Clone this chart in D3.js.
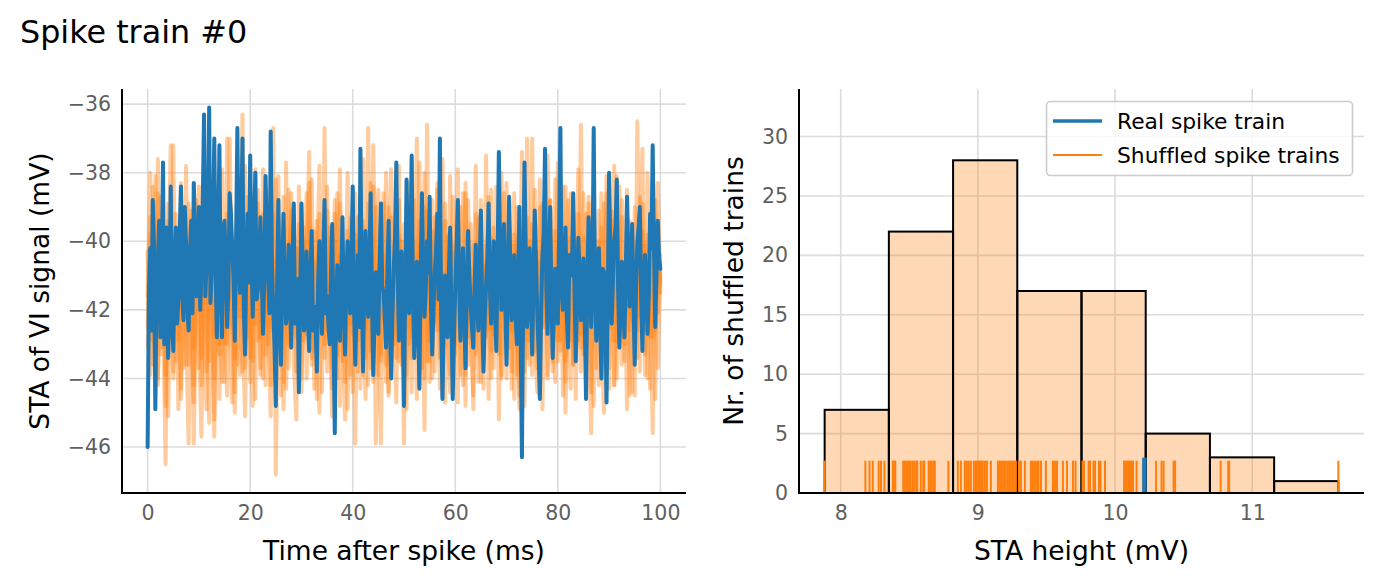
<!DOCTYPE html>
<html><head><meta charset="utf-8">
<script src="https://cdn.jsdelivr.net/npm/d3@7"></script>
<style>body{margin:0;background:#fff}svg{display:block;font-family:"DejaVu Sans",sans-serif;font-variant-ligatures:none}</style>
</head><body><svg id="c" width="1382" height="583"></svg>
<script>
// ---------- data ----------
// real spike train STA, samples at t = 0, 0.5, 1.0 ... 100 ms
const blueSTAOnGrid = [
-46.0,-40.2,-38.8,-44.9,-40.6,-42.8,-37.7,-41.9,-43.4,-38.4,
-43.2,-39.6,-41.7,-38.4,-42.3,-40.1,-42.6,-39.4,-38.3,-41.6,
-39.0,-40.9,-36.3,-40.6,-36.1,-40.9,-37.0,-42.8,-37.2,-42.8,
-39.4,-42.5,-38.6,-40.2,-42.9,-36.7,-41.5,-37.0,-43.3,-39.2,
-37.5,-42.2,-38.0,-41.4,-39.3,-42.7,-38.1,-40.9,-36.8,-42.0,
-44.8,-38.8,-43.6,-39.2,-42.4,-40.1,-43.1,-38.9,-42.3,-44.4,
-38.9,-42.6,-40.3,-43.2,-39.7,-41.9,-43.8,-40.0,-42.7,-38.8,
-41.6,-43.0,-39.5,-45.6,-40.7,-42.9,-39.3,-43.3,-40.0,-42.1,
-38.4,-43.6,-40.4,-37.3,-43.8,-39.7,-42.2,-38.6,-43.9,-40.9,
-42.7,-38.9,-41.5,-43.1,-39.4,-44.0,-40.8,-37.7,-42.9,-40.3,
-44.8,-38.2,-42.1,-37.5,-43.4,-40.6,-44.3,-38.6,-42.2,-40.0,
-38.7,-43.3,-40.9,-39.2,-37.0,-44.6,-41.0,-42.8,-39.6,-44.6,
-41.4,-38.8,-42.9,-40.2,-43.7,-39.7,-41.9,-43.1,-40.1,-42.6,
-39.1,-43.8,-41.3,-38.9,-42.4,-40.0,-43.2,-37.4,-42.0,-39.5,
-43.6,-38.7,-42.3,-40.4,-43.0,-39.0,-46.3,-37.7,-42.5,-40.2,
-43.3,-39.1,-42.1,-44.6,-40.4,-37.3,-42.7,-39.0,-43.4,-40.8,
-42.4,-36.7,-42.0,-39.6,-43.1,-40.7,-38.6,-43.5,-39.9,-42.3,
-40.5,-44.6,-39.3,-42.5,-36.7,-42.9,-40.2,-44.0,-40.9,-44.7,
-38.0,-42.4,-40.0,-38.2,-43.1,-40.6,-42.8,-38.7,-41.9,-39.5,
-43.6,-40.1,-39.0,-43.2,-40.4,-42.7,-39.2,-37.2,-42.5,-39.4,
-40.8];
// real spike train STA, samples at t = 0.25, 0.75 ... 99.75 ms
const blueSTAOffGrid = [
-41.5,-42.6,-40.1,-41.3,-39.4,-40.8,-43.0,-39.6,-41.9,-42.2,
-40.6,-42.4,-39.8,-41.5,-39.0,-41.9,-40.3,-42.1,-39.9,-40.7,
-42.0,-38.9,-41.6,-39.3,-41.8,-39.5,-40.7,-40.1,-41.4,-39.7,
-40.8,-41.4,-39.2,-41.1,-39.9,-40.4,-39.6,-41.9,-40.5,-41.2,
-40.3,-39.8,-41.7,-40.6,-40.9,-41.2,-39.9,-42.1,-40.7,-43.1,
-41.4,-42.0,-40.9,-41.6,-42.0,-41.5,-40.6,-42.4,-41.1,-41.7,
-40.8,-41.9,-42.3,-41.0,-42.6,-42.4,-41.2,-41.6,-40.5,-42.1,
-42.4,-41.0,-42.8,-41.9,-41.6,-41.2,-42.0,-41.1,-41.4,-40.6,
-41.9,-41.8,-42.5,-40.9,-41.2,-41.0,-40.7,-41.6,-42.3,-41.7,
-40.4,-41.3,-42.2,-41.0,-42.5,-42.1,-39.9,-40.7,-41.5,-42.4,
-41.2,-40.5,-40.4,-41.6,-41.9,-42.3,-41.0,-40.8,-41.4,-40.9,
-41.8,-42.0,-40.3,-41.7,-42.2,-42.5,-41.6,-40.9,-42.1,-42.8,
-40.2,-41.1,-41.3,-42.2,-41.4,-41.0,-42.5,-41.4,-41.6,-40.8,
-42.0,-42.3,-40.5,-41.4,-41.2,-41.9,-40.6,-40.3,-41.0,-41.8,
-41.3,-40.9,-41.5,-42.1,-41.2,-42.8,-41.6,-40.4,-41.7,-41.3,
-41.1,-40.6,-43.2,-42.0,-39.8,-41.3,-41.0,-41.6,-42.0,-41.5,
-39.9,-41.4,-41.3,-42.2,-40.4,-41.0,-41.4,-41.7,-41.0,-41.6,
-42.3,-41.2,-40.4,-41.1,-41.3,-41.7,-42.3,-40.8,-42.1,-41.5,
-40.3,-41.2,-39.6,-41.3,-41.8,-41.9,-41.0,-40.6,-40.9,-41.7,
-41.4,-39.6,-41.6,-41.3,-41.6,-41.5,-40.2,-40.1,-41.0,-40.5];
// shuffled spike trains, samples at t = 0, 0.5 ... 100 ms
const shuffledA = [
-42.5,-39.8,-43.6,-38.1,-44.2,-40.6,-41.9,-46.5,-39.4,-42.8,
-37.2,-43.5,-40.9,-44.6,-39.0,-42.7,-45.9,-40.3,-43.1,-38.8,
-42.9,-45.7,-39.6,-43.8,-41.2,-38.5,-44.0,-40.8,-43.3,-37.9,
-42.6,-44.5,-37.0,-41.8,-43.4,-38.9,-42.2,-36.3,-43.7,-40.1,
-44.1,-38.6,-42.4,-40.0,-43.9,-39.2,-41.6,-43.0,-38.3,-36.7,
-46.8,-40.5,-42.9,-38.7,-44.3,-40.7,-39.1,-43.5,-45.2,-38.4,
-42.1,-39.6,-44.0,-40.9,-38.2,-43.2,-41.0,-37.8,-44.4,-36.7,
-42.6,-39.9,-43.7,-41.4,-38.6,-44.8,-40.3,-42.5,-38.0,-43.9,
-40.6,-45.9,-39.3,-42.3,-37.6,-43.4,-36.7,-41.7,-44.1,-39.0,
-42.8,-45.9,-38.9,-43.6,-40.2,-37.9,-42.4,-44.7,-39.8,-41.5,
-45.9,-39.1,-43.0,-37.6,-42.2,-37.0,-44.2,-39.7,-45.5,-36.6,
-42.9,-40.0,-43.8,-38.5,-41.3,-44.5,-39.4,-42.7,-38.1,-43.6,
-40.4,-37.9,-43.9,-41.0,-44.8,-38.8,-42.3,-40.1,-43.3,-39.3,
-41.9,-44.3,-37.5,-42.6,-39.9,-43.7,-38.4,-45.2,-40.6,-42.0,
-38.3,-43.1,-40.7,-44.6,-39.0,-42.4,-37.4,-43.8,-37.0,-41.6,
-43.9,-39.5,-42.7,-38.2,-44.9,-40.3,-42.0,-38.8,-43.5,-40.8,
-37.7,-43.2,-39.8,-45.0,-41.2,-38.6,-43.6,-40.0,-42.9,-36.6,
-43.3,-39.2,-42.5,-45.6,-38.9,-41.8,-44.2,-39.6,-42.8,-38.1,
-43.7,-40.5,-37.8,-44.0,-41.1,-39.3,-43.0,-38.5,-42.6,-40.2,
-44.5,-36.5,-42.2,-39.7,-43.9,-38.0,-41.6,-45.6,-38.8,-42.1,
-40.4];
const shuffledB = [
-40.3,-43.9,-38.4,-42.7,-37.6,-43.3,-39.5,-44.8,-41.2,-37.2,
-42.6,-40.1,-44.9,-39.0,-42.1,-37.8,-43.6,-41.0,-45.9,-40.6,
-43.7,-39.4,-42.8,-44.9,-38.9,-42.0,-45.2,-40.4,-43.0,-39.8,
-44.1,-37.0,-42.5,-40.7,-44.4,-38.2,-41.9,-43.8,-37.8,-42.8,
-39.6,-43.5,-37.9,-42.9,-40.4,-44.0,-38.5,-42.1,-45.1,-39.2,
-42.4,-38.1,-44.5,-39.9,-41.5,-43.7,-38.6,-42.5,-40.2,-44.2,
-38.9,-42.9,-40.6,-37.4,-43.4,-39.7,-42.2,-45.0,-40.0,-43.0,
-38.4,-41.8,-44.3,-39.2,-42.4,-37.9,-43.5,-40.5,-44.9,-39.3,
-42.7,-38.6,-43.8,-40.2,-42.0,-44.6,-38.9,-43.2,-37.2,-41.4,
-43.9,-39.5,-42.3,-38.0,-44.4,-40.9,-42.9,-38.7,-43.5,-40.0,
-42.1,-44.9,-38.3,-43.4,-40.5,-42.8,-37.7,-41.9,-44.0,-39.1,
-43.5,-38.8,-42.4,-40.6,-44.3,-37.6,-42.0,-39.8,-43.9,-40.3,
-42.6,-44.7,-39.0,-41.7,-38.3,-43.6,-40.8,-42.9,-37.8,-44.1,
-39.6,-42.2,-40.1,-44.6,-38.5,-42.7,-40.4,-43.3,-38.0,-41.8,
-44.0,-39.4,-42.6,-38.6,-43.9,-40.7,-42.1,-44.8,-39.3,-42.9,
-37.0,-43.2,-40.3,-44.4,-38.9,-42.5,-37.5,-41.3,-43.8,-39.7,
-42.9,-40.1,-44.5,-38.4,-42.3,-39.9,-43.6,-40.8,-37.9,-43.1,
-40.6,-44.1,-38.7,-42.4,-40.0,-43.7,-39.1,-42.7,-45.0,-38.6,
-42.0,-40.4,-44.2,-38.1,-42.9,-40.9,-43.5,-39.6,-42.2,-44.4,
-39.0,-42.6,-40.5,-37.3,-43.3,-39.8,-42.8,-40.2,-44.6,-38.3,
-41.5];
const shuffledC = [
-41.6,-38.0,-42.9,-40.2,-44.0,-38.7,-43.1,-39.9,-45.1,-40.8,
-43.8,-39.2,-42.0,-44.3,-40.5,-43.6,-38.9,-42.4,-44.7,-40.0,
-38.4,-44.2,-41.3,-39.5,-43.5,-40.7,-45.7,-39.8,-42.6,-44.1,
-39.7,-43.0,-38.8,-42.7,-45.0,-40.1,-43.9,-38.5,-42.0,-39.4,
-43.4,-40.6,-44.6,-38.9,-42.8,-37.9,-43.3,-40.0,-44.2,-41.1,
-38.2,-42.6,-40.8,-44.1,-37.7,-43.0,-41.4,-38.9,-43.8,-40.2,
-44.4,-40.0,-42.7,-38.3,-43.6,-40.6,-44.6,-39.2,-42.3,-40.8,
-43.8,-39.6,-42.1,-38.8,-44.0,-40.4,-42.8,-45.2,-39.7,-42.4,
-38.9,-43.1,-40.0,-44.3,-39.4,-42.6,-40.8,-43.7,-38.4,-45.9,
-40.7,-43.3,-38.6,-42.0,-44.5,-39.3,-43.0,-40.6,-37.8,-43.6,
-39.5,-42.5,-40.4,-44.4,-38.8,-42.9,-40.1,-43.7,-39.0,-41.8,
-44.1,-39.7,-42.3,-38.3,-43.4,-40.9,-44.7,-39.9,-42.5,-38.7,
-43.0,-40.5,-42.1,-44.2,-38.6,-42.8,-39.5,-44.9,-40.3,-42.4,
-38.8,-43.6,-40.7,-42.2,-44.0,-39.6,-42.9,-40.2,-43.9,-38.6,
-42.7,-40.3,-44.3,-39.8,-42.0,-44.5,-40.9,-38.4,-43.4,-40.0,
-42.8,-38.5,-43.7,-40.6,-42.4,-39.3,-44.0,-40.1,-42.6,-38.2,
-43.5,-39.6,-42.2,-44.1,-38.8,-42.9,-40.4,-44.6,-39.2,-42.7,
-38.6,-43.0,-40.8,-44.4,-39.5,-42.1,-40.0,-43.8,-38.9,-42.5,
-44.3,-39.1,-42.9,-40.3,-38.4,-43.6,-40.7,-44.9,-39.4,-42.3,
-40.6,-43.4,-38.7,-42.6,-40.1,-44.0,-39.3,-42.8,-41.0,-43.7,
-40.9];
const shuffledD = [
-43.1,-39.3,-41.8,-44.5,-38.6,-42.4,-40.0,-43.9,-38.9,-41.4,
-44.0,-40.4,-42.9,-38.3,-43.7,-40.9,-42.5,-39.1,-44.2,-41.6,
-40.1,-43.4,-38.8,-42.2,-45.3,-39.6,-42.7,-38.6,-44.6,-40.9,
-43.0,-39.2,-42.8,-44.7,-40.3,-43.6,-39.7,-42.4,-45.1,-38.7,
-42.3,-44.8,-40.1,-38.5,-43.7,-41.0,-44.2,-39.3,-42.6,-40.5,
-43.6,-39.4,-42.1,-44.9,-40.6,-38.5,-43.1,-41.0,-42.8,-39.5,
-44.0,-41.2,-38.6,-42.9,-40.1,-44.3,-39.4,-42.5,-40.9,-43.4,
-39.1,-42.2,-45.1,-40.0,-43.3,-38.9,-42.0,-44.1,-40.7,-42.6,
-44.4,-39.8,-42.9,-38.4,-43.9,-40.6,-44.2,-38.3,-42.4,-40.3,
-38.5,-43.5,-40.4,-44.1,-39.0,-42.7,-40.1,-43.4,-38.8,-42.3,
-40.8,-43.9,-38.7,-42.8,-40.0,-44.6,-39.4,-42.2,-38.0,-43.5,
-40.9,-44.0,-39.3,-42.6,-40.2,-43.5,-38.9,-42.9,-44.4,-40.1,
-43.3,-39.5,-42.4,-38.6,-43.9,-40.3,-42.7,-44.5,-39.2,-42.1,
-44.1,-40.7,-42.8,-38.7,-43.2,-40.9,-42.3,-39.6,-44.0,-40.5,
-42.6,-38.9,-43.8,-40.1,-42.2,-44.9,-39.7,-42.9,-40.4,-43.6,
-39.5,-42.8,-44.4,-39.0,-42.5,-40.4,-43.9,-38.8,-42.3,-44.1,
-40.2,-42.9,-38.4,-43.5,-40.7,-44.3,-39.1,-42.6,-40.3,-43.8,
-39.9,-42.7,-38.9,-43.1,-44.8,-40.2,-42.4,-38.6,-43.6,-40.8,
-42.5,-39.4,-44.2,-40.6,-43.0,-38.8,-42.7,-40.1,-44.5,-39.8,
-42.9,-40.3,-43.8,-38.9,-42.2,-40.7,-44.3,-39.5,-42.6,-40.0,
-41.2];
const gridStepMs = 0.5;
const offGridShiftMs = 0.25;
const shuffledHeights = [
7.883,8.180,8.210,8.234,8.277,8.294,8.319,
8.380,8.391,8.398,8.456,8.467,8.478,8.489,8.500,8.511,8.526,8.537,8.551,8.558,8.584,8.602,8.609,8.642,8.653,8.664,8.679,8.686,8.785,
8.854,8.876,8.905,8.920,8.934,8.949,8.971,8.982,8.993,9.004,9.015,9.026,9.036,9.051,9.066,9.095,9.146,9.157,9.168,9.182,9.193,9.204,9.219,9.230,9.241,9.252,9.263,9.277,
9.299,9.314,9.343,9.387,9.401,9.416,9.431,9.442,9.460,9.496,9.547,9.562,9.577,9.620,9.650,9.693,9.712,
9.763,9.774,9.807,9.818,9.843,9.854,9.883,9.894,9.927,10.066,10.077,10.088,10.099,10.109,10.120,10.131,10.157,
10.299,10.339,10.354,10.427,10.438,
10.770,10.825,10.832,
11.628];
const realHeight = 10.214;
const histCounts = [7, 22, 28, 17, 17, 5, 3, 1];
const leftXTicks = [0, 20, 40, 60, 80, 100];
const leftYTicks = [-46, -44, -42, -40, -38, -36];
const rightXTicks = [8, 9, 10, 11];
const rightYTicks = [0, 5, 10, 15, 20, 25, 30];
const titleText = "Spike train #0";
const legendLabels = ["Real spike train", "Shuffled spike trains"];

// ---------- drawing ----------
const BLUE = "#1f77b4", ORANGE = "#ff7f0e", GRID = "#dcdcdc", TICK = "#5f5f5f";
const svg = d3.select("#c");
const fmt = d3.format("d");

svg.append("text").attr("x", 20).attr("y", 43).attr("font-size", 31.8).attr("fill", "#000").text(titleText);

function frame(g, x, y, xt, yt, X0, X1, Y0, Y1) {
  const grid = g.append("g");
  grid.selectAll("line.v").data(xt).join("line")
    .attr("x1", d => x(d)).attr("x2", d => x(d)).attr("y1", Y0).attr("y2", Y1)
    .attr("stroke", GRID).attr("stroke-width", 1.6);
  grid.selectAll("line.h").data(yt).join("line")
    .attr("x1", X0).attr("x2", X1).attr("y1", d => y(d)).attr("y2", d => y(d))
    .attr("stroke", GRID).attr("stroke-width", 1.6);
  return grid;
}
function axesOn(g, x, y, xt, yt, X0, X1, Y0, Y1, xlabel, ylabel, ylabX) {
  const ax = g.append("g").attr("transform", `translate(0,${Y1})`)
    .call(d3.axisBottom(x).tickValues(xt).tickFormat(fmt).tickSize(0).tickPadding(12));
  ax.select(".domain").remove();
  ax.selectAll("text").attr("font-size", 20.5).attr("fill", TICK).attr("font-family", "DejaVu Sans");
  const ay = g.append("g").attr("transform", `translate(${X0},0)`)
    .call(d3.axisLeft(y).tickValues(yt).tickFormat(fmt).tickSize(0).tickPadding(11));
  ay.select(".domain").remove();
  ay.selectAll("text").attr("font-size", 20.5).attr("fill", TICK).attr("font-family", "DejaVu Sans");
  g.append("line").attr("x1", X0).attr("x2", X0).attr("y1", Y0).attr("y2", Y1 + 1)
    .attr("stroke", "#000").attr("stroke-width", 2);
  g.append("line").attr("x1", X0 - 1).attr("x2", X1).attr("y1", Y1).attr("y2", Y1)
    .attr("stroke", "#000").attr("stroke-width", 2);
  g.append("text").attr("x", (X0 + X1) / 2).attr("y", 560).attr("text-anchor", "middle")
    .attr("font-size", 26.5).attr("fill", "#000").text(xlabel);
  g.append("text").attr("transform", `translate(${ylabX},${(Y0 + Y1) / 2}) rotate(-90)`)
    .attr("text-anchor", "middle").attr("font-size", 26.5).attr("fill", "#000").text(ylabel);
}

// Left panel
{
  const X0 = 122, X1 = 686, Y0 = 89, Y1 = 493;
  const x = d3.scaleLinear().domain([-5, 105]).range([X0, X1]);
  const y = d3.scaleLinear().domain([-47.34, -35.56]).range([Y1, Y0]);
  const g = svg.append("g");
  frame(g, x, y, leftXTicks, leftYTicks, X0, X1, Y0, Y1);
  g.append("clipPath").attr("id", "clipL").append("rect")
    .attr("x", X0).attr("y", Y0).attr("width", X1 - X0).attr("height", Y1 - Y0);
  // merge on-grid and off-grid samples into one time-ordered series
  const bluePts = [];
  blueSTAOnGrid.forEach((v, i) => {
    bluePts.push([i * gridStepMs, v]);
    if (i < blueSTAOffGrid.length) bluePts.push([i * gridStepMs + offGridShiftMs, blueSTAOffGrid[i]]);
  });
  const line = d3.line().x(d => x(d[0])).y(d => y(d[1]));
  const lines = g.append("g").attr("clip-path", "url(#clipL)");
  [shuffledA, shuffledB, shuffledC, shuffledD].forEach(s => {
    lines.append("path").attr("d", line(s.map((v, i) => [i * gridStepMs, v]))).attr("fill", "none").attr("stroke", ORANGE)
      .attr("stroke-opacity", 0.4).attr("stroke-width", 4).attr("stroke-linejoin", "round").attr("stroke-linecap", "round");
  });
  lines.append("path").attr("d", line(bluePts)).attr("fill", "none").attr("stroke", BLUE)
    .attr("stroke-width", 4).attr("stroke-linejoin", "round").attr("stroke-linecap", "round");
  axesOn(g, x, y, leftXTicks, leftYTicks, X0, X1, Y0, Y1, "Time after spike (ms)", "STA of VI signal (mV)", 49);
}

// Right panel
{
  const X0 = 799, X1 = 1364, Y0 = 89, Y1 = 493;
  const x = d3.scaleLinear().domain([7.696, 11.815]).range([X0, X1]);
  const y = d3.scaleLinear().domain([0, 34]).range([Y1, Y0]);
  const g = svg.append("g");
  frame(g, x, y, rightXTicks, rightYTicks, X0, X1, Y0, Y1);
  const lo = d3.min(shuffledHeights), hi = d3.max(shuffledHeights);
  const bw = (hi - lo) / histCounts.length;
  const bins = histCounts.map((c, i) => ({ x0: lo + i * bw, x1: lo + (i + 1) * bw, c }));
  g.selectAll("rect.fill").data(bins).join("rect")
    .attr("x", d => x(d.x0)).attr("width", d => x(d.x1) - x(d.x0))
    .attr("y", d => y(d.c)).attr("height", d => y(0) - y(d.c))
    .attr("fill", ORANGE).attr("fill-opacity", 0.3);
  g.selectAll("rect.edge").data(bins).join("rect")
    .attr("x", d => x(d.x0)).attr("width", d => x(d.x1) - x(d.x0))
    .attr("y", d => y(d.c)).attr("height", d => y(0) - y(d.c))
    .attr("fill", "none").attr("stroke", "#000").attr("stroke-width", 2);
  const rugH = 0.08 * (Y1 - Y0);
  g.selectAll("line.rug").data(shuffledHeights).join("line")
    .attr("x1", d => x(d)).attr("x2", d => x(d)).attr("y1", Y1).attr("y2", Y1 - rugH)
    .attr("stroke", ORANGE).attr("stroke-width", 2);
  g.append("line").attr("x1", x(realHeight)).attr("x2", x(realHeight)).attr("y1", Y1).attr("y2", Y1 - rugH - 3)
    .attr("stroke", BLUE).attr("stroke-width", 4.5);
  axesOn(g, x, y, rightXTicks, rightYTicks, X0, X1, Y0, Y1, "STA height (mV)", "Nr. of shuffled trains", 743);

  // legend
  const lg = g.append("g");
  lg.append("rect").attr("x", 1046.5).attr("y", 101.5).attr("width", 306).attr("height", 74).attr("rx", 4)
    .attr("fill", "#fff").attr("fill-opacity", 0.8).attr("stroke", "#cccccc").attr("stroke-width", 1.6);
  lg.append("line").attr("x1", 1053).attr("x2", 1102).attr("y1", 121).attr("y2", 121).attr("stroke", BLUE).attr("stroke-width", 3.5);
  lg.append("line").attr("x1", 1053).attr("x2", 1102).attr("y1", 155).attr("y2", 155).attr("stroke", ORANGE).attr("stroke-width", 2);
  lg.append("text").attr("x", 1117).attr("y", 128.5).attr("font-size", 21.8).attr("fill", "#000").text(legendLabels[0]);
  lg.append("text").attr("x", 1117).attr("y", 162.5).attr("font-size", 21.8).attr("fill", "#000").text(legendLabels[1]);
}
</script></body></html>
